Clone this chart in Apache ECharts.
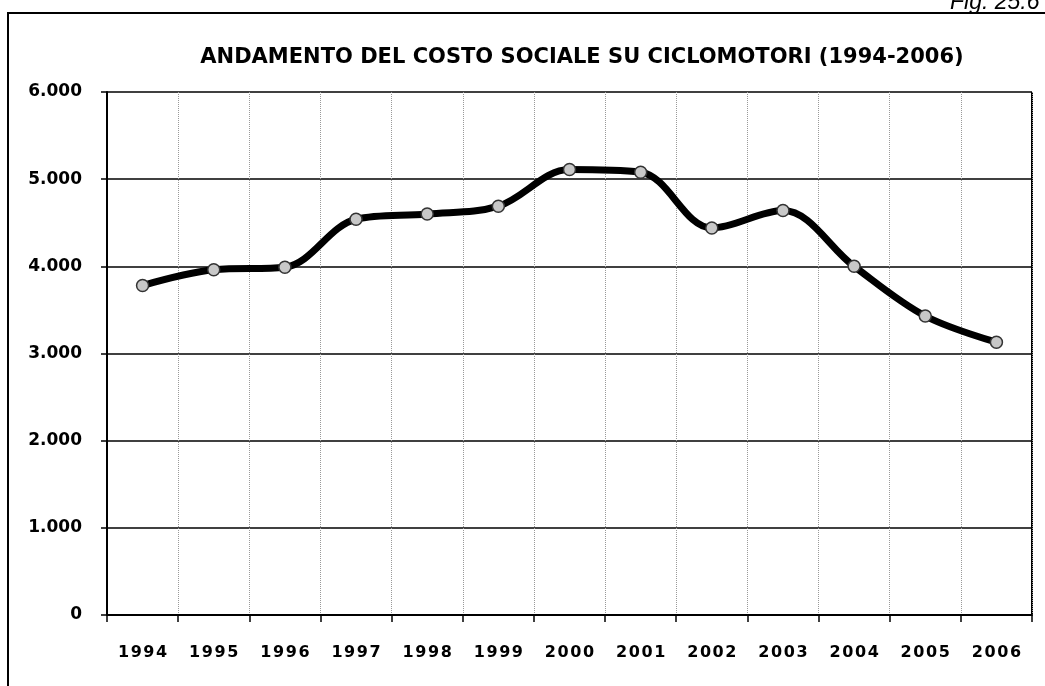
<!DOCTYPE html>
<html>
<head>
<meta charset="utf-8">
<script src="https://cdn.jsdelivr.net/npm/echarts@6/dist/echarts.min.js"></script>
<style>
  html, body { margin: 0; padding: 0; background: #fff; }
  #chart { width: 1045px; height: 686px; }
</style>
</head>
<body>
<div id="chart"></div>
<script>
// dati
const years = ["1994", "1995", "1996", "1997", "1998", "1999", "2000",
  "2001", "2002", "2003", "2004", "2005", "2006"];
const costoSociale = [3780, 3960, 3990, 4540, 4600, 4690, 5110,
  5080, 4440, 4640, 4000, 3430, 3130];
const yTicks = [0, 1000, 2000, 3000, 4000, 5000, 6000];

const fontFam = "'DejaVu Sans', sans-serif";

const chart = echarts.init(document.getElementById("chart"));
chart.setOption({
  animation: false,
  backgroundColor: "#fff",
  title: {
    text: "ANDAMENTO DEL COSTO SOCIALE SU CICLOMOTORI (1994-2006)",
    left: 577,
    textAlign: "center",
    top: 42,
    textStyle: { fontFamily: fontFam, fontWeight: "bold", fontSize: 21, color: "#000" }
  },
  grid: { left: 107, right: 13, top: 92, bottom: 71 },
  graphic: [
    {
      type: "rect",
      shape: { x: 8, y: 13, width: 1100, height: 700 },
      style: { fill: null, stroke: "#000", lineWidth: 2 }
    },
    {
      type: "text",
      left: 950,
      top: -9,
      style: { text: "Fig. 25.6", font: "italic 23px 'Liberation Sans', Arial", fill: "#000" }
    },
    {
      // bordo destro dell'area del grafico
      type: "line",
      shape: { x1: 1032, y1: 92, x2: 1032, y2: 615 },
      style: { stroke: "#000", lineWidth: 2 }
    }
  ],
  xAxis: {
    type: "category",
    data: years,
    boundaryGap: true,
    axisLine: { lineStyle: { color: "#000", width: 2 } },
    axisTick: { show: true, length: 7, lineStyle: { color: "#000", width: 1.5 } },
    axisLabel: {
      margin: 30,
      fontFamily: fontFam,
      fontWeight: "bold",
      fontSize: 16,
      color: "#000",
      formatter: v => v.split("").join("\u200a")
    },
    splitLine: { show: true, interval: 0, lineStyle: { color: "#999", type: "dotted", width: 1 } }
  },
  yAxis: {
    type: "value",
    min: yTicks[0],
    max: yTicks[yTicks.length - 1],
    interval: 1000,
    axisLine: { show: true, lineStyle: { color: "#000", width: 2 } },
    axisTick: { show: true, length: 6, lineStyle: { color: "#000", width: 1.5 } },
    axisLabel: {
      margin: 25,
      fontFamily: fontFam,
      fontWeight: "bold",
      fontSize: 17,
      color: "#000",
      formatter: v => v === 0 ? "0" : (v / 1000).toFixed(3)
    },
    splitLine: { show: true, lineStyle: { color: "#000", width: 1.5 } }
  },
  series: [
    {
      name: "Costo sociale",
      type: "line",
      data: costoSociale,
      smooth: 0.35,
      symbol: "circle",
      symbolSize: 12,
      lineStyle: { color: "#000", width: 7 },
      itemStyle: { color: "#c8c8c8", borderColor: "#333", borderWidth: 1.5 },
      z: 5
    }
  ]
});
</script>
</body>
</html>
